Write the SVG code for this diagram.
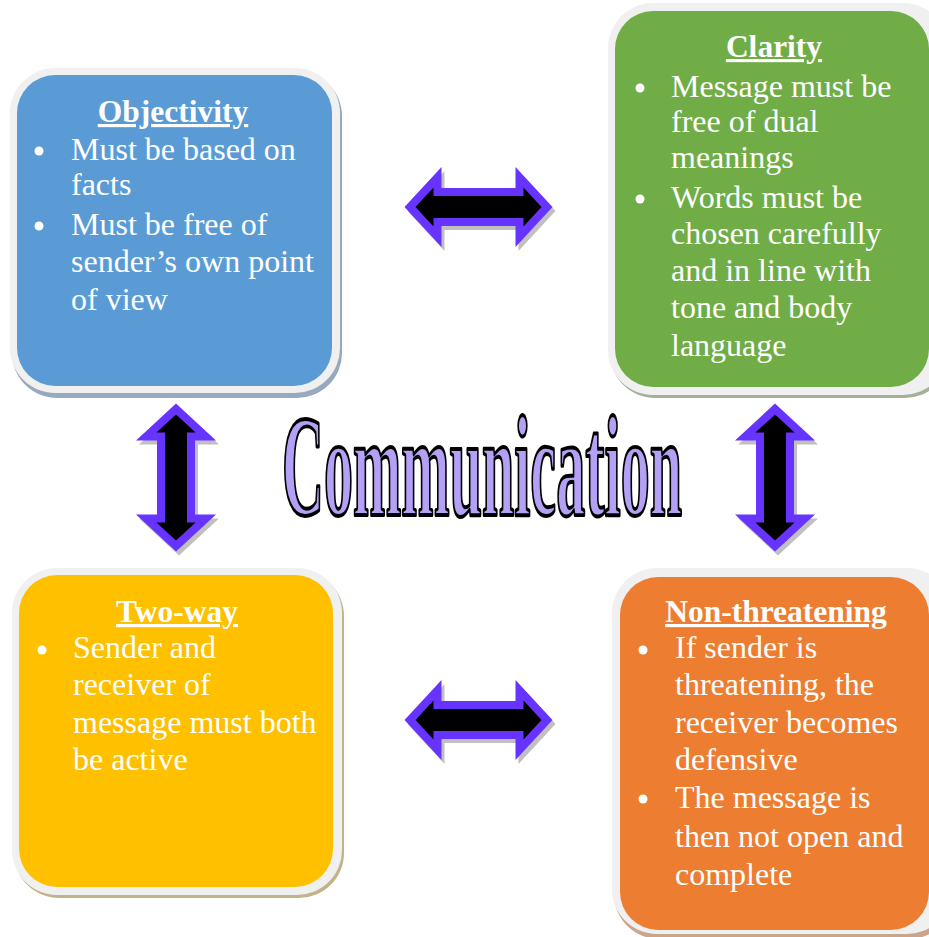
<svg xmlns="http://www.w3.org/2000/svg" xmlns:xlink="http://www.w3.org/1999/xlink" width="929" height="937" viewBox="0 0 929 937">
  <style>
    .band { fill: #f0f0f0; }
    .title { font-family: "Liberation Serif", "Times New Roman", serif; font-size: 31.5px; font-weight: bold; fill: #ffffff; text-anchor: middle; text-decoration: underline; }
    .body { font-family: "Liberation Serif", "Times New Roman", serif; font-size: 32px; fill: #ffffff; }
    .dot { fill: #ffffff; }
    .arr-shadow { fill: #c0c0c0; }
    .arr-out { fill: #6633ff; }
    .arr-in { fill: #000000; }
    .big { font-family: "Liberation Serif", "Times New Roman", serif; font-size: 143px; font-weight: bold; fill: #b4a0f4; stroke: #000000; stroke-width: 3; stroke-linejoin: round; vector-effect: non-scaling-stroke; }
  </style>
  <defs>
    <!-- double-headed block arrow, horizontal, centred on the origin -->
    <polygon id="arrow-outer" points="-74,0 -37,-40 -37,-19 37,-19 37,-40 74,0 37,40 37,19 -37,19 -37,40"/>
    <polygon id="arrow-inner" points="-63,0 -45,-19.6 -45,-11 45,-11 45,-19.6 63,0 45,19.6 45,11 -45,11 -45,19.6"/>
  </defs>

  <rect width="929" height="937" fill="#ffffff"/>

  <!-- Objectivity -->
  <g id="objectivity">
    <rect x="12" y="71" width="330" height="327" rx="45" fill="#97a9bd"/>
    <rect class="band" x="10" y="68" width="330" height="325" rx="45"/>
    <rect x="17" y="75" width="315" height="311" rx="38" fill="#5b9bd5"/>
    <text class="title" x="173" y="122">Objectivity</text>
    <circle class="dot" cx="39" cy="151" r="4.5"/>
    <circle class="dot" cx="39" cy="226" r="4.5"/>
    <text class="body">
      <tspan x="71" y="160">Must be based on</tspan>
      <tspan x="71" y="195">facts</tspan>
      <tspan x="71" y="235">Must be free of</tspan>
      <tspan x="71" y="272">sender’s own point</tspan>
      <tspan x="71" y="310">of view</tspan>
    </text>
  </g>

  <!-- Clarity -->
  <g id="clarity">
    <rect x="610" y="6" width="340" height="392" rx="45" fill="#a3b09a"/>
    <rect class="band" x="608" y="3" width="340" height="392" rx="45"/>
    <rect x="615" y="11" width="314" height="376" rx="38" fill="#70ad47"/>
    <text class="title" x="774" y="57">Clarity</text>
    <circle class="dot" cx="640" cy="88" r="4.5"/>
    <circle class="dot" cx="640" cy="199" r="4.5"/>
    <text class="body">
      <tspan x="671" y="97">Message must be</tspan>
      <tspan x="671" y="132">free of dual</tspan>
      <tspan x="671" y="168">meanings</tspan>
      <tspan x="671" y="208">Words must be</tspan>
      <tspan x="671" y="244">chosen carefully</tspan>
      <tspan x="671" y="281">and in line with</tspan>
      <tspan x="671" y="318">tone and body</tspan>
      <tspan x="671" y="356">language</tspan>
    </text>
  </g>

  <!-- Two-way -->
  <g id="two-way">
    <rect x="14" y="571" width="330" height="327" rx="45" fill="#c2b38a"/>
    <rect class="band" x="12" y="568" width="330" height="327" rx="45"/>
    <rect x="19" y="575" width="314" height="312" rx="38" fill="#ffc000"/>
    <text class="title" x="177" y="622">Two-way</text>
    <circle class="dot" cx="42" cy="650" r="4.5"/>
    <text class="body">
      <tspan x="73" y="658">Sender and</tspan>
      <tspan x="73" y="695">receiver of</tspan>
      <tspan x="73" y="733">message must both</tspan>
      <tspan x="73" y="770">be active</tspan>
    </text>
  </g>

  <!-- Non-threatening -->
  <g id="non-threatening">
    <rect x="614" y="571" width="340" height="368" rx="45" fill="#c9a58c"/>
    <rect class="band" x="612" y="568" width="340" height="366" rx="45"/>
    <rect x="620" y="577" width="309" height="353" rx="38" fill="#ed7d31"/>
    <text class="title" x="776" y="622">Non-threatening</text>
    <circle class="dot" cx="643" cy="650" r="4.5"/>
    <circle class="dot" cx="643" cy="799" r="4.5"/>
    <text class="body">
      <tspan x="675" y="658">If sender is</tspan>
      <tspan x="675" y="695">threatening, the</tspan>
      <tspan x="675" y="733">receiver becomes</tspan>
      <tspan x="675" y="770">defensive</tspan>
      <tspan x="675" y="808">The message is</tspan>
      <tspan x="675" y="847">then not open and</tspan>
      <tspan x="675" y="885">complete</tspan>
    </text>
  </g>

  <!-- centre heading: condensed by a horizontal scale -->
  <g id="communication">
    <text class="big" transform="translate(282,515) scale(0.406,1)" x="0" y="0">Communication</text>
  </g>

  <!-- connectors: double-headed block arrows -->
  <g id="connectors">
    <g id="arrow-top">
      <use xlink:href="#arrow-outer" class="arr-shadow" transform="translate(481.5,211)"/>
      <use xlink:href="#arrow-outer" class="arr-out" transform="translate(478.5,207)"/>
      <use xlink:href="#arrow-inner" class="arr-in" transform="translate(478.5,207)"/>
    </g>
    <g id="arrow-bottom">
      <use xlink:href="#arrow-outer" class="arr-shadow" transform="translate(481.5,724)"/>
      <use xlink:href="#arrow-outer" class="arr-out" transform="translate(478.5,720)"/>
      <use xlink:href="#arrow-inner" class="arr-in" transform="translate(478.5,720)"/>
    </g>
    <g id="arrow-left">
      <use xlink:href="#arrow-outer" class="arr-shadow" transform="translate(179,481.5) rotate(90)"/>
      <use xlink:href="#arrow-outer" class="arr-out" transform="translate(176,477.5) rotate(90)"/>
      <use xlink:href="#arrow-inner" class="arr-in" transform="translate(176,477.5) rotate(90)"/>
    </g>
    <g id="arrow-right">
      <use xlink:href="#arrow-outer" class="arr-shadow" transform="translate(778,481.5) rotate(90)"/>
      <use xlink:href="#arrow-outer" class="arr-out" transform="translate(775,477.5) rotate(90)"/>
      <use xlink:href="#arrow-inner" class="arr-in" transform="translate(775,477.5) rotate(90)"/>
    </g>
  </g>
</svg>
